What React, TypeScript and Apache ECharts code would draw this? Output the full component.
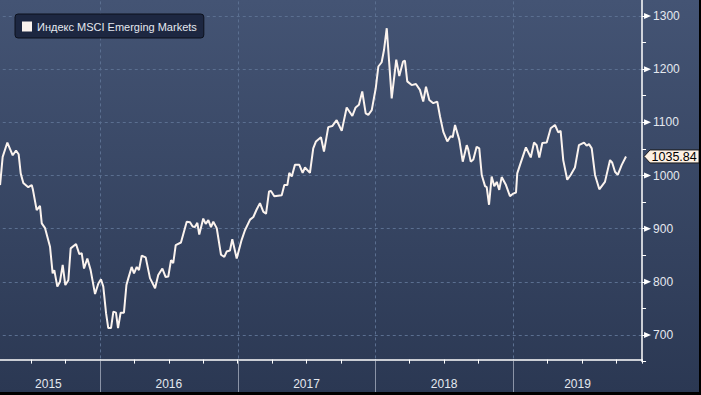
import React, { useEffect, useRef } from 'react';
import * as echarts from 'echarts';

const seriesName = 'Индекс MSCI Emerging Markets';

// decimal year of each weekly observation
const years = [
  2015.274, 2015.293, 2015.327, 2015.366, 2015.390, 2015.409, 2015.424, 2015.443, 2015.479, 2015.504,
  2015.513, 2015.540, 2015.564, 2015.577, 2015.601, 2015.637, 2015.656, 2015.668, 2015.690, 2015.709,
  2015.729, 2015.748, 2015.770, 2015.787, 2015.826, 2015.850, 2015.867, 2015.884, 2015.908, 2015.932,
  2015.964, 2015.988, 2016.007, 2016.024, 2016.044, 2016.060, 2016.080, 2016.097, 2016.116, 2016.131,
  2016.150, 2016.174, 2016.192, 2016.206, 2016.230, 2016.247, 2016.267, 2016.283, 2016.303, 2016.332,
  2016.363, 2016.400, 2016.423, 2016.453, 2016.477, 2016.496, 2016.516, 2016.532, 2016.550, 2016.588,
  2016.630, 2016.654, 2016.673, 2016.690, 2016.707, 2016.721, 2016.750, 2016.768, 2016.787, 2016.806,
  2016.823, 2016.848, 2016.879, 2016.903, 2016.920, 2016.944, 2016.961, 2016.993, 2017.029, 2017.053,
  2017.090, 2017.114, 2017.138, 2017.162, 2017.186, 2017.206, 2017.228, 2017.242, 2017.266, 2017.320,
  2017.339, 2017.361, 2017.375, 2017.393, 2017.416, 2017.448, 2017.472, 2017.489, 2017.525, 2017.549,
  2017.569, 2017.605, 2017.627, 2017.658, 2017.687, 2017.719, 2017.756, 2017.792, 2017.833, 2017.857,
  2017.881, 2017.905, 2017.930, 2017.949, 2017.974, 2018.003, 2018.022, 2018.046, 2018.063, 2018.083,
  2018.119, 2018.152, 2018.174, 2018.201, 2018.215, 2018.232, 2018.264, 2018.295, 2018.324, 2018.348,
  2018.368, 2018.392, 2018.421, 2018.450, 2018.470, 2018.494, 2018.523, 2018.547, 2018.562, 2018.579,
  2018.610, 2018.635, 2018.664, 2018.675, 2018.693, 2018.712, 2018.736, 2018.755, 2018.773, 2018.797,
  2018.809, 2018.826, 2018.845, 2018.864, 2018.882, 2018.900, 2018.918, 2018.949, 2018.978, 2019.002,
  2019.022, 2019.031, 2019.051, 2019.094, 2019.129, 2019.153, 2019.172, 2019.191, 2019.213, 2019.245,
  2019.274, 2019.305, 2019.329, 2019.346, 2019.365, 2019.394, 2019.419, 2019.450, 2019.479, 2019.516,
  2019.535, 2019.552, 2019.572, 2019.596, 2019.627, 2019.668, 2019.705, 2019.721, 2019.741, 2019.761,
  2019.790, 2019.821,
];

const values = [
  982, 1035, 1062, 1038, 1047, 1040, 1004, 986, 978, 982,
  973, 935, 943, 910, 901, 866, 816, 822, 791, 800,
  832, 794, 803, 863, 871, 852, 854, 825, 844, 822,
  777, 797, 805, 791, 741, 713, 713, 744, 742, 713,
  742, 742, 794, 807, 828, 816, 828, 822, 849, 846,
  807, 788, 813, 825, 809, 810, 841, 835, 869, 874,
  913, 912, 904, 903, 911, 889, 919, 909, 916, 903,
  913, 901, 851, 847, 857, 859, 880, 844, 879, 897,
  917, 922, 936, 948, 932, 928, 970, 971, 961, 963,
  982, 982, 1005, 998, 1020, 1020, 1005, 1015, 1005, 1051,
  1064, 1072, 1045, 1091, 1093, 1104, 1084, 1128, 1112, 1128,
  1133, 1158, 1117, 1114, 1123, 1164, 1205, 1213, 1236, 1277,
  1145, 1218, 1187, 1214, 1216, 1177, 1170, 1172, 1161, 1139,
  1167, 1142, 1136, 1139, 1111, 1082, 1064, 1074, 1072, 1095,
  1067, 1026, 1057, 1049, 1026, 1030, 1054, 1051, 1001, 980,
  978, 945, 998, 980, 988, 973, 997, 982, 961, 966,
  968, 1004, 1020, 1053, 1034, 1062, 1057, 1034, 1061, 1062,
  1089, 1095, 1081, 1084, 1029, 992, 1001, 1015, 1057, 1062,
  1056, 1059, 1051, 1001, 974, 988, 1029, 1024, 1007, 1001,
  1020, 1035.84,
];

const yearBoundaries = [2016, 2017, 2018, 2019];
const yearLabels = ['2015', '2016', '2017', '2018', '2019'];
const yearLabelPositions = [2015.625, 2016.5, 2017.5, 2018.5, 2019.46875];
const yMajorTicks = [700, 800, 900, 1000, 1100, 1200, 1300];

const X_MIN = 2015.25;
const X_MAX = 2019.9375;
const Y_MIN = 650;
const Y_MAX = 1350;
const X_AXIS_SHIFT = -2; // x axis drawn slightly above the grid's bottom edge

const FONT = '"Liberation Sans", Arial, sans-serif';
const DASH = '#5b6f90';
const LINE = '#fbf3ee';
const TEXT = '#e4e8ef';

export default function App() {
  const ref = useRef<HTMLDivElement>(null);

  useEffect(() => {
    if (!ref.current) return;
    const chart = echarts.init(ref.current, null, { renderer: 'svg' });
    const lastIdx = values.length - 1;

    chart.setOption({
      animation: false,
      backgroundColor: new echarts.graphic.LinearGradient(0, 0, 0, 1, [
        { offset: 0, color: '#445474' },
        { offset: 1, color: '#2b3853' },
      ]),
      legend: {
        data: [seriesName],
        left: 15,
        top: 14,
        padding: [7, 7, 6, 7],
        icon: 'rect',
        itemWidth: 10,
        itemHeight: 10,
        itemGap: 5,
        backgroundColor: '#1d2741',
        borderColor: '#0c111d',
        borderWidth: 1,
        borderRadius: 3,
        textStyle: { color: TEXT, fontSize: 11, fontFamily: FONT },
      },
      grid: {
        left: -3.25,
        top: -10.6,
        width: 645.3,
        height: 372.2,
        containLabel: false,
        outerBoundsMode: 'none',
      },
      xAxis: [
        {
          type: 'value',
          min: X_MIN,
          max: X_MAX,
          interval: 0.25,
          offset: X_AXIS_SHIFT,
          axisLine: { show: true, lineStyle: { color: '#ffffff', width: 1.5 } },
          axisTick: { show: true, length: 4, lineStyle: { color: '#ffffff', width: 1 } },
          axisLabel: { show: false },
          splitLine: { show: false },
        },
        {
          type: 'value',
          min: X_MIN,
          max: X_MAX,
          interval: 0.03125,
          position: 'bottom',
          offset: X_AXIS_SHIFT,
          axisLine: { show: false },
          axisTick: { show: false },
          splitLine: { show: false },
          axisLabel: {
            show: true,
            margin: 18,
            color: TEXT,
            fontSize: 12,
            fontFamily: FONT,
            formatter: (v: number) => {
              const i = yearLabelPositions.findIndex((p) => Math.abs(p - v) < 0.001);
              return i >= 0 ? yearLabels[i] : '';
            },
          },
        },
      ],
      yAxis: {
        type: 'value',
        position: 'right',
        min: Y_MIN,
        max: Y_MAX,
        interval: 50,
        axisLine: { show: true, lineStyle: { color: '#ffffff', width: 1.5 } },
        axisTick: { show: true, length: 4, lineStyle: { color: '#ffffff', width: 1 } },
        axisLabel: {
          margin: 11,
          color: TEXT,
          fontSize: 12,
          fontFamily: FONT,
          formatter: (v: number) => (Math.abs(v % 100) < 0.001 && v >= 700 && v <= 1300 ? String(v) : ''),
        },
        splitLine: {
          show: true,
          lineStyle: { color: ['rgba(0,0,0,0)', DASH], type: [3, 3], width: 1 },
        },
      },
      series: [
        {
          type: 'custom',
          z: 1,
          clip: false,
          silent: true,
          data: yearBoundaries.map((v) => [v, Y_MIN]),
          renderItem: (params: any, api: any) => {
            const v = api.value(0);
            const top = api.coord([v, Y_MAX]);
            const bot = api.coord([v, Y_MIN]);
            const x = Math.round(bot[0]) + 0.5;
            const axisY = bot[1] + X_AXIS_SHIFT;
            return {
              type: 'group',
              children: [
                {
                  type: 'line',
                  shape: { x1: x, y1: top[1], x2: x, y2: axisY },
                  style: { stroke: DASH, lineWidth: 1, lineDash: [3, 3] },
                },
                {
                  type: 'line',
                  shape: { x1: x, y1: axisY + 1, x2: x, y2: axisY + 40 },
                  style: { stroke: '#8b94a7', lineWidth: 1 },
                },
              ],
            };
          },
        },
        {
          type: 'custom',
          z: 5,
          clip: false,
          silent: true,
          data: yMajorTicks.map((v) => [X_MAX, v]),
          renderItem: (params: any, api: any) => {
            const p = api.coord([api.value(0), api.value(1)]);
            return {
              type: 'polygon',
              shape: {
                points: [
                  [p[0] + 2, p[1] - 3],
                  [p[0] + 9, p[1]],
                  [p[0] + 2, p[1] + 3],
                ],
              },
              style: { fill: '#ffffff' },
            };
          },
        },
        {
          name: seriesName,
          type: 'line',
          z: 3,
          color: LINE,
          showSymbol: false,
          symbol: 'none',
          lineStyle: { color: LINE, width: 2 },
          data: years.map((x, i) => [x, values[i]]),
        },
        {
          type: 'custom',
          z: 6,
          clip: false,
          silent: true,
          data: [[years[lastIdx], values[lastIdx]]],
          renderItem: (params: any, api: any) => {
            const p = api.coord([api.value(0), api.value(1)]);
            const rx = params.coordSys.x + params.coordSys.width;
            const y = p[1];
            return {
              type: 'group',
              children: [
                {
                  type: 'polygon',
                  shape: {
                    points: [
                      [rx + 2, y],
                      [rx + 8, y - 6.5],
                      [rx + 57, y - 6.5],
                      [rx + 57, y + 6.5],
                      [rx + 8, y + 6.5],
                    ],
                  },
                  style: { fill: '#fdf1e4', stroke: '#1a1a1a', lineWidth: 1 },
                },
                {
                  type: 'text',
                  x: rx + 9.5,
                  y: y + 0.5,
                  style: {
                    text: api.value(1).toFixed(2),
                    fill: '#000000',
                    fontSize: 12.5,
                    fontFamily: FONT,
                    align: 'left',
                    verticalAlign: 'middle',
                  },
                },
              ],
            };
          },
        },
      ],
    });

    return () => chart.dispose();
  }, []);

  return (
    <div style={{ position: 'absolute', left: 0, top: 0, width: 701, height: 395, background: '#000' }}>
      <div ref={ref} style={{ width: 699, height: 392 }} />
    </div>
  );
}
